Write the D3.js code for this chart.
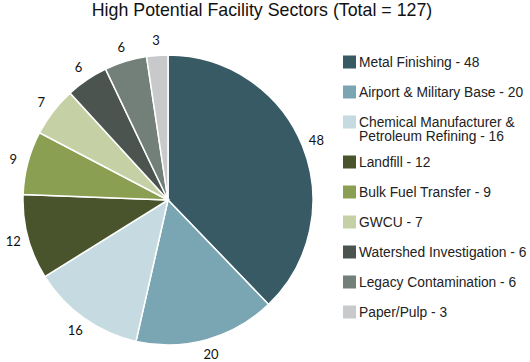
<!DOCTYPE html>
<html>
<head>
  <style>
    body { margin: 0; background: #fff; }
    svg { display: block; }
  </style>
</head>
<body>
  <script src="https://d3js.org/d3.v7.min.js"></script>
  <script>
    // data
    const sectors = ['Metal Finishing', 'Airport & Military Base', 'Chemical Manufacturer & Petroleum Refining',
      'Landfill', 'Bulk Fuel Transfer', 'GWCU', 'Watershed Investigation', 'Legacy Contamination', 'Paper/Pulp'];
    const counts = [48, 20, 16, 12, 9, 7, 6, 6, 3];
    const legendLines = [
      ['Metal Finishing - 48'],
      ['Airport & Military Base - 20'],
      ['Chemical Manufacturer &', 'Petroleum Refining - 16'],
      ['Landfill - 12'],
      ['Bulk Fuel Transfer - 9'],
      ['GWCU - 7'],
      ['Watershed Investigation - 6'],
      ['Legacy Contamination - 6'],
      ['Paper/Pulp - 3']
    ];
    const colors = ['#375a64', '#7aa6b3', '#c6dbe1', '#4a542c', '#8a9f52', '#c5d1a4', '#4c5450', '#737f79', '#c8c9cb'];

    const width = 530, height = 362;
    const cx = 168, cy = 200, radius = 145;

    const data = sectors.map((s, i) => ({ sector: s, count: counts[i], lines: legendLines[i] }));

    const svg = d3.select('body').append('svg')
      .attr('width', width)
      .attr('height', height);

    svg.append('text')
      .attr('x', 262)
      .attr('y', 16)
      .attr('text-anchor', 'middle')
      .style('font-family', 'Arial, "Liberation Sans", sans-serif')
      .style('font-size', '17.8px')
      .style('fill', '#111')
      .text('High Potential Facility Sectors (Total = 127)');

    const color = d3.scaleOrdinal().domain(sectors).range(colors);

    const pie = d3.pie().sort(null).value(d => d.count);
    const arc = d3.arc().innerRadius(0).outerRadius(radius);
    const labelArc = d3.arc().innerRadius(160).outerRadius(160);

    const g = svg.append('g').attr('transform', `translate(${cx},${cy})`);
    const arcs = pie(data);

    g.selectAll('path')
      .data(arcs)
      .enter()
      .append('path')
      .attr('d', arc)
      .attr('fill', d => color(d.data.sector))
      .attr('stroke', '#fff')
      .attr('stroke-width', 1.5);

    g.selectAll('.lbl')
      .data(arcs)
      .enter()
      .append('text')
      .attr('class', 'lbl')
      .attr('transform', d => `translate(${labelArc.centroid(d)})`)
      .attr('text-anchor', 'middle')
      .attr('dominant-baseline', 'central')
      .style('font-family', 'Lato, "Open Sans", sans-serif')
      .style('font-size', '13px')
      .style('fill', '#111')
      .text(d => d.data.count);

    // legend
    const legend = svg.append('g').attr('id', 'legend');
    let y = 62;
    data.forEach(d => {
      const row = legend.append('g').attr('transform', `translate(343,${y})`);
      row.append('rect')
        .attr('x', 0)
        .attr('y', -6.5)
        .attr('width', 13)
        .attr('height', 13)
        .attr('fill', color(d.sector));
      d.lines.forEach((line, j) => {
        row.append('text')
          .attr('x', 16)
          .attr('y', j * 14)
          .attr('dominant-baseline', 'central')
          .style('font-family', 'Arial, "Liberation Sans", sans-serif')
          .style('font-size', '13.8px')
          .style('fill', '#222')
          .text(line);
      });
      y += 30 + (d.lines.length - 1) * 10;
    });
  </script>
</body>
</html>
